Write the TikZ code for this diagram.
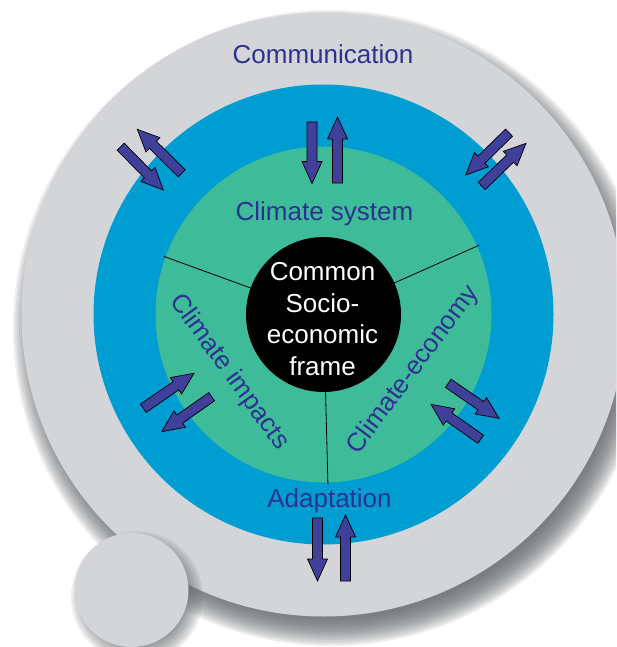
\documentclass[tikz,border=0pt]{standalone}
\usepackage{fontspec}
\setmainfont{Liberation Sans}
\usetikzlibrary{calc}
\definecolor{greyc}{RGB}{212,213,216}
\definecolor{bluec}{RGB}{0,157,210}
\definecolor{greenc}{RGB}{62,187,152}
\definecolor{txtc}{RGB}{46,49,146}
\definecolor{arrc}{RGB}{64,64,155}
\definecolor{shadc}{RGB}{100,102,106}
\tikzset{
  lbl/.style={font=\fontsize{26}{31.6}\selectfont, text=txtc, inner sep=0pt},
  ctxt/.style={font=\fontsize{26}{31.6}\selectfont, text=white, inner sep=0pt, anchor=base},
  flowarr/.style={fill=arrc, draw=black, line width=0.7pt, line join=miter},
  divider/.style={draw=black, line width=0.8pt},
}
\newcommand\flowarrow[2]{%
  \coordinate (hb) at ($(#2)!22pt!(#1)$);
  \filldraw[flowarr] ($(#1)!5pt!90:(#2)$) -- ($(hb)!5pt!90:(#2)$) -- ($(hb)!10pt!90:(#2)$)
    -- (#2) -- ($(hb)!10pt!-90:(#2)$) -- ($(hb)!5pt!-90:(#2)$) -- ($(#1)!5pt!-90:(#2)$) -- cycle;
}
\begin{document}
\begin{tikzpicture}[x=1pt,y=-1pt]
\useasboundingbox (0,0) rectangle (616,647);
\clip (0,0) rectangle (616,647);
\fill[white] (0,0) rectangle (616,647);
\coordinate (ctr) at (323.5,314.5);
% shadow of big disc
\foreach \i in {0,...,14} {
  \fill[shadc, opacity=0.11] (331,328) circle[radius={318pt-2pt*\i}];
}
% big grey disc
\fill[greyc] (ctr) circle[radius=302pt];
\fill[bluec] (ctr) circle[radius=230pt];
\fill[greenc] (ctr) circle[radius=168pt];
\fill[black] (ctr) circle[radius=77.5pt];
% dividers
\foreach \a in {160,24,-88.5} {
  \draw[divider] ($(ctr)+(\a:77pt)$) -- ($(ctr)+(\a:170pt)$);
}
% labels
\node[lbl, anchor=base] (comm) at (323,64) {Communication};
\node[lbl, anchor=base] (csys) at (324.5,220) {Climate system};
\node[lbl, anchor=base] (adap) at (329.5,507.5) {Adaptation};
\node[lbl, rotate=-54] (cimp) at (229,372) {Climate impacts};
\node[lbl, rotate=53.4] (cecon) at (413.5,370) {Climate-economy};
\node[ctxt] (f1) at (322.5,280.6) {Common};
\node[ctxt] (f2) at (322.5,312) {Socio-};
\node[ctxt] (f3) at (322.5,343.7) {economic};
\node[ctxt] (f4) at (322.5,375.5) {frame};
% arrows
\flowarrow{312,122}{312,183.5}
\flowarrow{337.5,183}{337.5,117}
\flowarrow{317.5,518}{317.5,581}
\flowarrow{345.5,581}{345.5,515}
\flowarrow{120.7,146.7}{163.3,190}
\flowarrow{181.7,173.3}{137.3,129.3}
\flowarrow{509,132.7}{465.7,175}
\flowarrow{481.7,186}{526,143.3}
\flowarrow{143.3,408.3}{194,373.3}
\flowarrow{211.7,396.7}{161.7,431.7}
\flowarrow{448.3,383.3}{499,418.3}
\flowarrow{480.7,439.3}{431,404.3}
% small disc with shadow
\foreach \i in {0,...,8} {
  \fill[shadc, opacity=0.1] (137,597) circle[radius={66pt-2pt*\i}];
}
\fill[greyc] (131.5,590) circle[radius=57pt];
\end{tikzpicture}
\end{document}
